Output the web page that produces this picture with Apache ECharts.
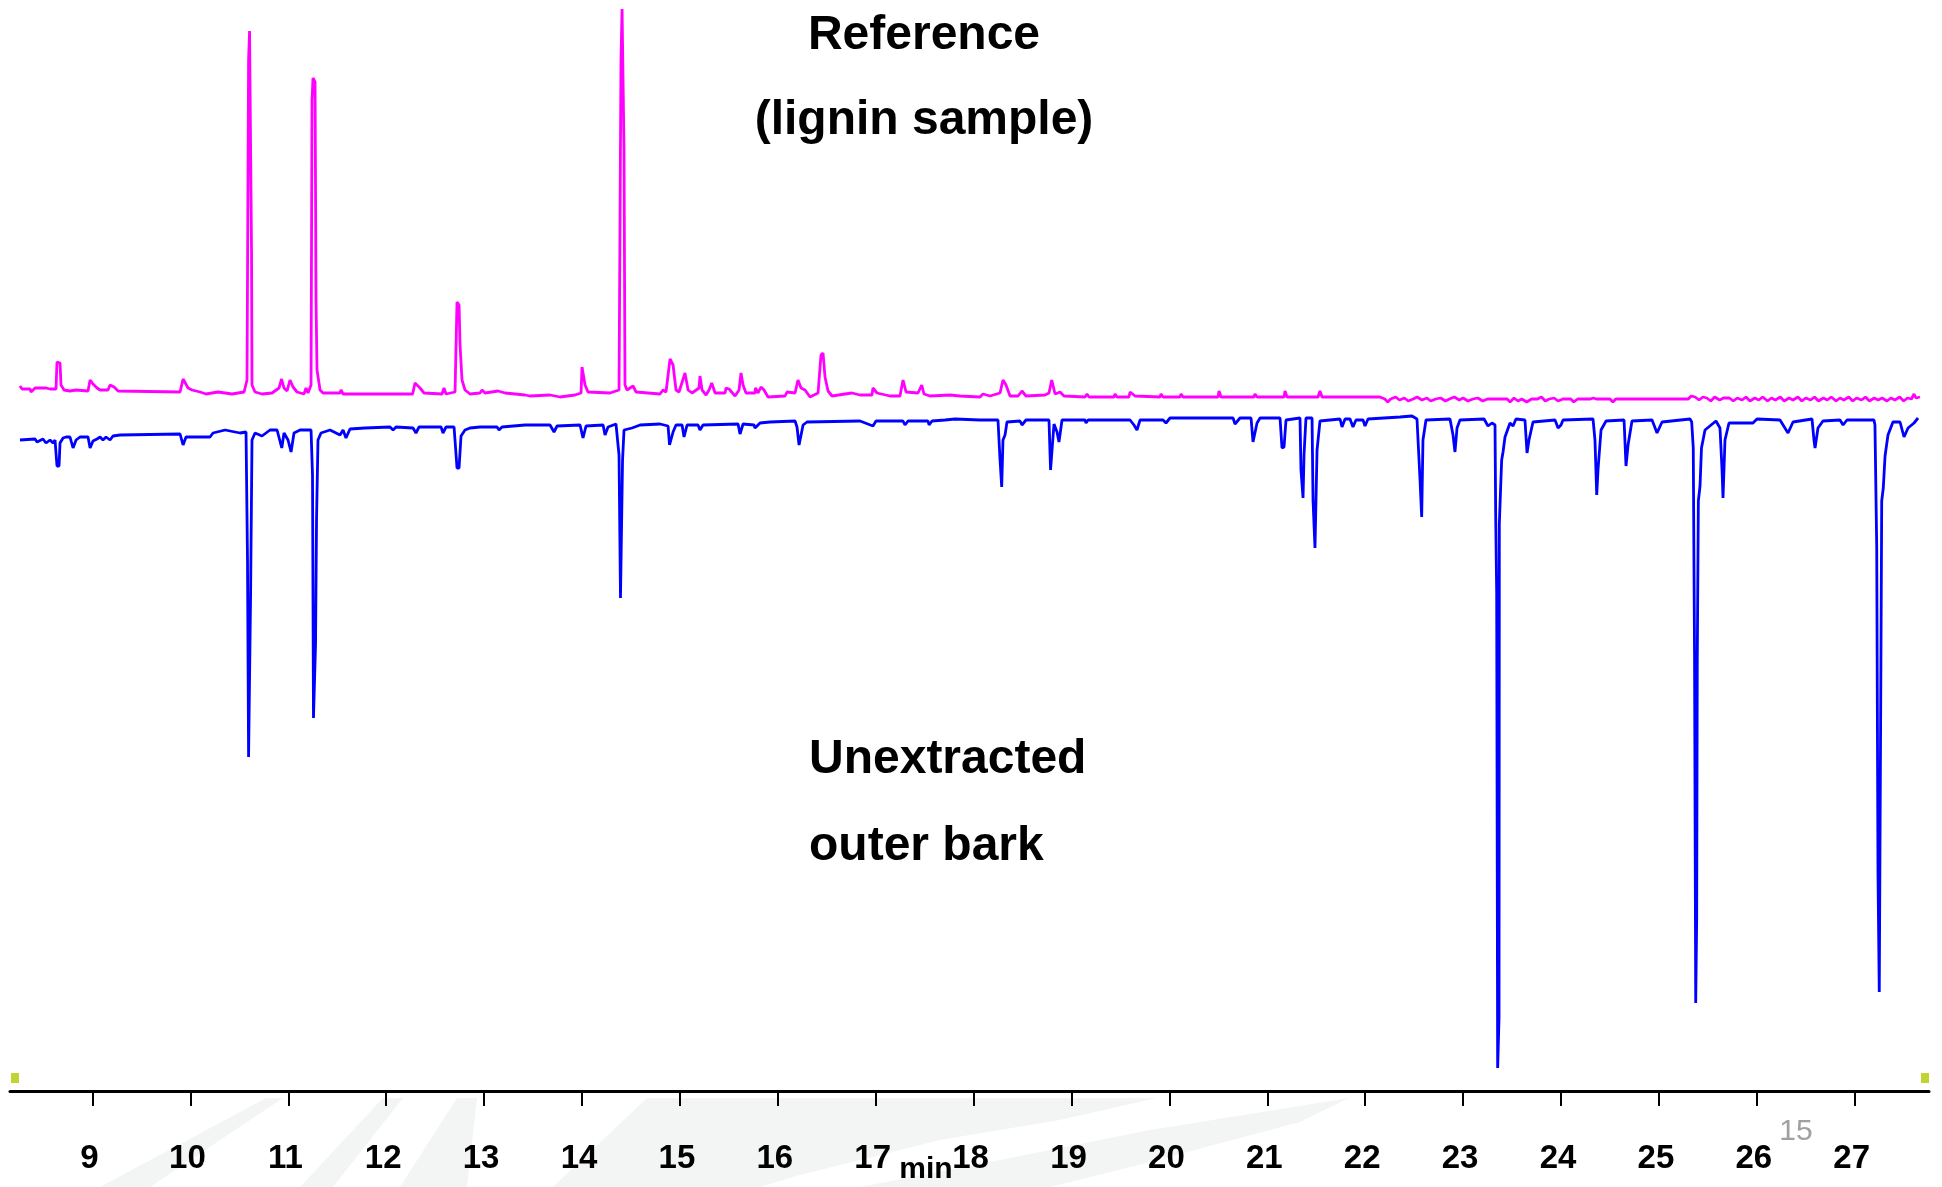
<!DOCTYPE html>
<html>
<head>
<meta charset="utf-8">
<style>
  html, body { margin: 0; padding: 0; background: #ffffff; }
  #chromatogram { width: 1942px; height: 1187px; }
</style>
</head>
<body>
<div id="chromatogram"></div>

<script src="https://cdn.jsdelivr.net/npm/echarts@6/dist/echarts.min.js"></script>
<script>
    // retention time (min) and signal of the reference trace (lignin sample), drawn upwards
    var pinkTime = [8.259, 8.280, 8.362, 8.372, 8.413, 8.525, 8.535, 8.566, 8.627, 8.637, 8.668, 8.678, 8.709, 8.770, 8.832, 8.954, 8.975, 9.005, 9.046, 9.077,
        9.158, 9.179, 9.220, 9.261, 9.894, 9.925, 9.945, 9.976, 10.016, 10.098, 10.159, 10.282, 10.425, 10.548, 10.578, 10.594, 10.604, 10.619, 10.624, 10.629,
        10.660, 10.731, 10.834, 10.905, 10.931, 10.956, 10.987, 11.017, 11.048, 11.089, 11.160, 11.181, 11.201, 11.232, 11.242, 11.252, 11.273, 11.283, 11.293, 11.324,
        11.354, 11.528, 11.538, 11.559, 11.937, 12.270, 12.294, 12.345, 12.386, 12.570, 12.590, 12.611, 12.703, 12.723, 12.744, 12.754, 12.774, 12.805, 12.856, 12.958,
        12.979, 13.009, 13.142, 13.162, 13.214, 13.418, 13.469, 13.673, 13.775, 13.929, 13.990, 14.000, 14.020, 14.031, 14.061, 14.286, 14.378, 14.398, 14.409, 14.419,
        14.429, 14.439, 14.460, 14.521, 14.552, 14.797, 14.827, 14.858, 14.899, 14.930, 14.960, 14.991, 15.052, 15.083, 15.124, 15.195, 15.205, 15.226, 15.267, 15.297,
        15.325, 15.359, 15.461, 15.471, 15.502, 15.563, 15.604, 15.624, 15.645, 15.675, 15.767, 15.772, 15.798, 15.828, 15.859, 15.900, 16.074, 16.094, 16.176, 16.206,
        16.237, 16.278, 16.329, 16.411, 16.441, 16.462, 16.482, 16.513, 16.554, 16.687, 16.707, 16.758, 16.840, 16.962, 16.972, 17.013, 17.146, 17.248, 17.279, 17.310,
        17.432, 17.470, 17.493, 17.555, 17.759, 17.779, 17.861, 18.065, 18.096, 18.168, 18.270, 18.300, 18.331, 18.372, 18.454, 18.494, 18.535, 18.729, 18.770, 18.798,
        18.832, 18.883, 18.923, 19.138, 19.158, 19.179, 19.434, 19.444, 19.465, 19.587, 19.598, 19.649, 19.904, 19.914, 19.935, 20.108, 20.119, 20.139, 20.497, 20.507,
        20.527, 20.864, 20.874, 20.895, 21.171, 21.181, 21.201, 21.518, 21.538, 21.559, 22.120,
        22.15, 22.20, 22.23, 22.26, 22.31, 22.35, 22.40, 22.44, 22.49, 22.53, 22.58, 22.63, 22.67, 22.72, 22.77, 22.82, 22.86, 22.91, 22.96, 23.00,
        23.05, 23.10, 23.15, 23.20, 23.25, 23.31, 23.45, 23.48, 23.52, 23.56, 23.60, 23.65, 23.70, 23.76, 23.80, 23.84, 23.88, 23.93, 23.97, 24.02,
        24.10, 24.13, 24.17, 24.30, 24.33, 24.36, 24.50, 24.53, 24.56, 24.75, 24.77, 24.79, 25.02, 25.04, 25.06, 25.30, 25.33, 25.37, 25.41, 25.45,
        25.49, 25.53, 25.57, 25.62, 25.66, 25.72, 25.76, 25.80, 25.85, 25.89, 25.93, 25.98, 26.02, 26.06, 26.11, 26.15, 26.19, 26.24, 26.28, 26.33,
        26.37, 26.42, 26.46, 26.50, 26.55, 26.59, 26.63, 26.68, 26.72, 26.76, 26.81, 26.85, 26.89, 26.94, 26.98, 27.02, 27.07, 27.11, 27.15, 27.20,
        27.24, 27.28, 27.33, 27.37, 27.41, 27.46, 27.50, 27.54, 27.58, 27.606, 27.626, 27.667];
    var pinkSignal = [24, 21, 21, 18, 22, 22, 24, 21, 21, 48, 47, 25, 20, 19, 20, 19, 30, 26, 22, 20,
        20, 25, 23, 19, 18, 31, 29, 22, 20, 18, 16, 18, 16, 18, 30, 350, 379, 379, 160, 25,
        18, 16, 17, 22, 31, 22, 19, 30, 23, 18, 16, 22, 17, 25, 310, 332, 328, 110, 40, 20,
        17, 17, 20, 16, 16, 16, 27, 22, 17, 16, 22, 16, 18, 108, 105, 65, 30, 20, 16, 17,
        20, 17, 19, 17, 17, 15, 14, 15, 13, 15, 17, 43, 43, 25, 18, 17, 20, 350, 401, 401,
        260, 25, 20, 24, 18, 16, 20, 18, 51, 45, 20, 18, 37, 20, 17, 22, 34, 20, 15, 20,
        27, 17, 17, 22, 21, 14, 20, 37, 25, 17, 17, 22, 17, 23, 20, 13, 14, 18, 17, 30,
        22, 20, 13, 17, 55, 57, 33, 19, 14, 16, 18, 17, 15, 15, 22, 17, 14, 14, 30, 18,
        17, 25, 16, 14, 15, 17, 14, 13, 16, 14, 17, 30, 25, 14, 14, 19, 14, 15, 17, 30,
        16, 18, 14, 13, 16, 13, 13, 16, 13, 13, 18, 14, 13, 16, 13, 13, 16, 13, 13, 19,
        13, 13, 16, 13, 13, 19, 13, 13, 19, 13, 13,
        13, 11, 8, 11, 13, 10, 12, 9, 11, 13, 10, 12, 9, 11, 12, 9, 11, 13, 10, 12,
        9, 11, 12, 9, 11, 11, 11, 8, 12, 9, 11, 8, 11, 11, 13, 9, 11, 12, 9, 11,
        11, 8, 11, 11, 12, 11, 11, 8, 11, 11, 13, 11, 11, 12, 11, 11, 14, 13, 10, 13,
        12, 9, 13, 10, 12, 12, 9, 12, 10, 13, 9, 12, 10, 13, 9, 12, 10, 13, 9, 12,
        10, 13, 9, 12, 10, 13, 9, 12, 10, 13, 9, 12, 10, 13, 9, 12, 10, 13, 9, 12,
        10, 12, 9, 12, 10, 13, 9, 12, 11, 16, 12, 13];

    // retention time (min) and signal of the unextracted outer bark trace, drawn downwards
    var blueTime = [8.259, 8.413, 8.433, 8.494, 8.525, 8.566, 8.597, 8.617, 8.637, 8.658, 8.668, 8.699, 8.729, 8.770, 8.801, 8.832, 8.872, 8.954, 8.975, 9.005,
        9.046, 9.077, 9.107, 9.138, 9.179, 9.209, 9.281, 9.894, 9.925, 9.955, 10.200, 10.231, 10.354, 10.507, 10.568, 10.583, 10.594, 10.604, 10.614, 10.629,
        10.660, 10.731, 10.813, 10.885, 10.933, 10.956, 10.997, 11.028, 11.058, 11.120, 11.232, 11.247, 11.257, 11.273, 11.278, 11.288, 11.303, 11.334, 11.426, 11.528,
        11.559, 11.589, 11.630, 11.784, 12.039, 12.070, 12.100, 12.274, 12.304, 12.335, 12.560, 12.580, 12.611, 12.693, 12.723, 12.744, 12.764, 12.805, 12.856, 12.958,
        13.132, 13.152, 13.183, 13.418, 13.673, 13.714, 13.745, 13.980, 14.010, 14.041, 14.215, 14.235, 14.266, 14.347, 14.378, 14.393, 14.404, 14.414, 14.429, 14.511,
        14.593, 14.797, 14.879, 14.894, 14.909, 14.930, 14.960, 15.022, 15.042, 15.073, 15.185, 15.205, 15.236, 15.594, 15.614, 15.645, 15.757, 15.767, 15.818, 15.920,
        16.176, 16.196, 16.217, 16.237, 16.258, 16.298, 16.840, 16.972, 17.003, 17.279, 17.299, 17.330, 17.534, 17.545, 17.575, 17.708, 17.810, 18.065, 18.249, 18.270,
        18.287, 18.300, 18.321, 18.341, 18.474, 18.494, 18.535, 18.770, 18.786, 18.801, 18.821, 18.852, 18.872, 18.903, 19.138, 19.148, 19.169, 19.598, 19.638, 19.669,
        19.700, 19.935, 19.965, 20.006, 20.650, 20.670, 20.721, 20.834, 20.854, 20.874, 20.895, 20.926, 21.130, 21.150, 21.171, 21.191, 21.334, 21.344, 21.365, 21.375,
        21.395, 21.457, 21.467, 21.487, 21.508, 21.538, 21.743, 21.763, 21.794, 21.845, 21.875, 21.906, 21.978, 21.998, 22.029, 22.356, 22.478, 22.529, 22.560, 22.577,
        22.590, 22.621, 22.866, 22.897, 22.917, 22.938, 22.968, 23.214, 23.254, 23.295, 23.326, 23.333, 23.343, 23.353, 23.367, 23.370, 23.384, 23.394, 23.408, 23.428,
        23.479, 23.510, 23.540, 23.632, 23.653, 23.673, 23.714, 23.939, 23.970, 24.000, 24.021, 24.327, 24.347, 24.365, 24.378, 24.409, 24.460, 24.644, 24.664, 24.685,
        24.725, 24.930, 24.981, 25.032, 25.318, 25.335, 25.351, 25.364, 25.376, 25.386, 25.392, 25.403, 25.420, 25.435, 25.471, 25.583, 25.624, 25.645, 25.655, 25.675,
        25.716, 25.961, 26.002, 26.237, 26.319, 26.370, 26.564, 26.584, 26.595, 26.625, 26.676, 26.850, 26.881, 26.921, 27.197, 27.207, 27.225, 27.238, 27.251, 27.262,
        27.276, 27.292, 27.310, 27.340, 27.391, 27.463, 27.504, 27.545, 27.606, 27.647];
    var blueSignal = [-30, -29, -32, -29, -33, -30, -33, -30, -56, -56, -33, -28, -27, -27, -38, -30, -27, -27, -38, -31,
        -29, -27, -30, -27, -30, -26, -25, -24, -35, -27, -27, -23, -20, -23, -22, -150, -347, -347, -190, -30,
        -23, -26, -20, -20, -38, -23, -30, -42, -23, -20, -20, -65, -308, -308, -234, -110, -30, -23, -20, -25,
        -20, -28, -19, -18, -17, -20, -17, -18, -23, -17, -17, -23, -17, -17, -58, -58, -26, -20, -18, -17,
        -17, -20, -17, -15, -15, -22, -16, -15, -28, -16, -15, -25, -17, -14, -45, -188, -188, -50, -20, -18,
        -15, -14, -16, -35, -35, -22, -15, -15, -27, -15, -15, -20, -15, -14, -24, -14, -15, -18, -13, -12,
        -11, -17, -35, -35, -15, -12, -11, -16, -11, -11, -15, -11, -11, -15, -11, -10, -9, -10, -10, -50,
        -77, -30, -25, -12, -11, -15, -10, -10, -60, -62, -14, -22, -32, -10, -10, -13, -10, -10, -15, -20,
        -10, -10, -13, -8, -8, -14, -8, -8, -32, -30, -13, -8, -8, -38, -37, -10, -8, -60, -88, -45,
        -8, -8, -90, -138, -40, -11, -9, -17, -9, -9, -17, -10, -10, -16, -9, -7, -6, -9, -70, -107,
        -30, -10, -9, -25, -42, -18, -10, -9, -16, -13, -15, -107, -183, -658, -608, -114, -76, -50, -42, -27,
        -13, -16, -9, -10, -43, -30, -12, -10, -18, -15, -10, -9, -30, -85, -60, -20, -11, -10, -56, -35,
        -11, -10, -23, -12, -9, -12, -38, -244, -593, -509, -250, -91, -76, -38, -20, -11, -18, -60, -88, -30,
        -13, -13, -9, -10, -23, -12, -9, -30, -38, -18, -11, -10, -15, -10, -10, -15, -137, -464, -582, -369,
        -91, -78, -46, -25, -12, -12, -27, -18, -13, -8];

    var tickMinutes = [9, 10, 11, 12, 13, 14, 15, 16, 17, 18, 19, 20, 21, 22, 23, 24, 25, 26, 27];

    function pairs(xs, ys) {
        return xs.map(function (x, i) { return [x, ys[i]]; });
    }

    var myChart = echarts.init(document.getElementById('chromatogram'));

    var font48 = 'bold 48px "Liberation Sans", Arial, sans-serif';
    var wash = '#f3f5f4';

    var option = {
        backgroundColor: '#ffffff',
        animation: false,
        grid: { left: 10, right: 13, top: 0, bottom: 96, containLabel: false },
        xAxis: {
            type: 'value',
            min: 8.157,
            max: 27.759,
            splitLine: { show: false },
            axisLine: { show: true, onZero: false, lineStyle: { color: '#000', width: 3 } },
            axisTick: { show: true, length: 15, customValues: tickMinutes, lineStyle: { color: '#000', width: 2 } },
            axisLabel: {
                customValues: tickMinutes,
                margin: 51,
                padding: [0, 6, 0, 0],
                color: '#000',
                fontSize: 33,
                fontWeight: 'bold',
                fontFamily: '"Liberation Sans", Arial, sans-serif'
            }
        },
        yAxis: {
            type: 'value',
            min: -681,
            max: 410,
            show: false
        },
        series: [
            {
                name: 'Reference (lignin sample)',
                type: 'line',
                data: pairs(pinkTime, pinkSignal),
                showSymbol: false,
                z: 3,
                lineStyle: { color: '#ff00ff', width: 2.8 },
                itemStyle: { color: '#ff00ff' }
            },
            {
                name: 'Unextracted outer bark',
                type: 'line',
                data: pairs(blueTime, blueSignal),
                showSymbol: false,
                z: 3,
                lineStyle: { color: '#0000ff', width: 2.8 },
                itemStyle: { color: '#0000ff' }
            }
        ],
        graphic: [
            // faint watermark swooshes under the axis
            { type: 'polygon', z: -10, shape: { points: [[100, 1187], [150, 1187], [283, 1098], [266, 1098]] }, style: { fill: wash } },
            { type: 'polygon', z: -10, shape: { points: [[300, 1187], [333, 1187], [403, 1098], [383, 1098]] }, style: { fill: wash } },
            { type: 'polygon', z: -10, shape: { points: [[400, 1187], [467, 1187], [477, 1098], [457, 1098]] }, style: { fill: wash } },
            { type: 'polygon', z: -10, shape: { points: [[553, 1187], [647, 1098], [1157, 1098], [1060, 1120], [940, 1140], [800, 1175], [760, 1187]] }, style: { fill: wash } },
            { type: 'polygon', z: -10, shape: { points: [[860, 1187], [1000, 1160], [1150, 1130], [1349, 1098], [1300, 1122], [1150, 1162], [1050, 1187]] }, style: { fill: wash } },

            { type: 'text', x: 924, y: 36, style: { text: 'Reference', font: font48, fill: '#000', align: 'center', verticalAlign: 'middle' } },
            { type: 'text', x: 924, y: 121, style: { text: '(lignin sample)', font: font48, fill: '#000', align: 'center', verticalAlign: 'middle' } },
            { type: 'text', x: 809, y: 760, style: { text: 'Unextracted', font: font48, fill: '#000', align: 'left', verticalAlign: 'middle' } },
            { type: 'text', x: 809, y: 847, style: { text: 'outer bark', font: font48, fill: '#000', align: 'left', verticalAlign: 'middle' } },
            { type: 'text', x: 926, y: 1170, style: { text: 'min', font: 'bold 30px "Liberation Sans", Arial, sans-serif', fill: '#000', align: 'center', verticalAlign: 'middle' } },
            { type: 'text', x: 1796, y: 1132, style: { text: '15', font: '30px "Liberation Sans", Arial, sans-serif', fill: '#a0a0a0', align: 'center', verticalAlign: 'middle' } },
            { type: 'rect', shape: { x: 11, y: 1073, width: 8, height: 10 }, style: { fill: '#c3d233' } },
            { type: 'rect', shape: { x: 1921, y: 1073, width: 8, height: 10 }, style: { fill: '#c3d233' } }
        ]
    };

    myChart.setOption(option);
</script>
</body>
</html>
